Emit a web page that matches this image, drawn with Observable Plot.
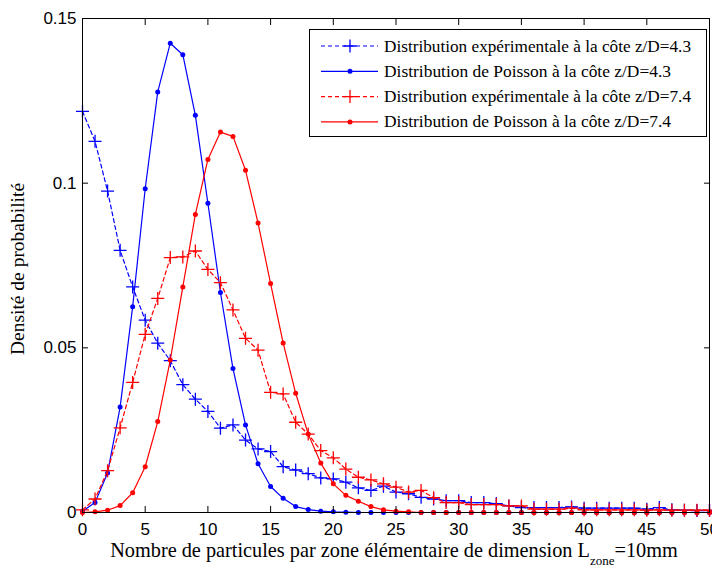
<!DOCTYPE html>
<html>
<head>
<meta charset="utf-8">
<script src="https://cdn.jsdelivr.net/npm/d3@7"></script>
<script src="https://cdn.jsdelivr.net/npm/@observablehq/plot@0.6"></script>
<style>
  html, body { margin: 0; padding: 0; background: white; }
  #wrap { position: relative; width: 712px; height: 570px; overflow: hidden; }
  #legend { position: absolute; left: 309px; top: 29px; width: 396px; height: 106px; border: 1px solid black; background: white; }
</style>
</head>
<body>
<div id="wrap"></div>
<script>
const xVals = [0,1,2,3,4,5,6,7,8,9,10,11,12,13,14,15,16,17,18,19,20,21,22,23,24,25,26,27,28,29,30,31,32,33,34,35,36,37,38,39,40,41,42,43,44,45,46,47,48,49,50];

const expA = [0.1218,0.1127,0.0976,0.0796,0.0685,0.0584,0.0514,0.0461,0.0388,0.0344,
  0.0307,0.0256,0.0266,0.0220,0.0193,0.0185,0.0139,0.0129,0.0118,0.0105,
  0.0102,0.0092,0.0075,0.0067,0.0080,0.0062,0.0057,0.0046,0.0041,0.0036,
  0.0036,0.0030,0.0030,0.0027,0.0020,0.0015,0.0015,0.0015,0.0015,0.0017,
  0.0013,0.0013,0.0013,0.0013,0.0013,0.0010,0.0015,0.0008,0.0007,0.0006,0.0006];

const poisA = [0.0004,0.0030,0.0120,0.0320,0.0625,0.0983,0.1277,0.1425,0.1390,0.1206,
  0.0939,0.0668,0.0437,0.0266,0.0148,0.0079,0.0043,0.0018,0.0009,0.0004,
  0.0002,0.0001,0,0,0,0,0,0,0,0,
  0,0,0,0,0,0,0,0,0,0,
  0,0,0,0,0,0,0,0,0,0,0];

const expB = [0.0008,0.0041,0.0127,0.0257,0.0395,0.0541,0.0650,0.0774,0.0776,0.0794,
  0.0738,0.0698,0.0615,0.0529,0.0493,0.0365,0.0360,0.0274,0.0238,0.0188,
  0.0166,0.0132,0.0107,0.0099,0.0087,0.0077,0.0062,0.0067,0.0045,0.0030,
  0.0030,0.0024,0.0024,0.0024,0.0020,0.0020,0.0010,0.0010,0.0010,0.0013,
  0.0008,0.0008,0.0008,0.0008,0.0008,0.0007,0.0008,0.0007,0.0007,0.0007,0.0007];

const poisB = [0.0000,0.0002,0.0007,0.0021,0.0060,0.0139,0.0276,0.0463,0.0685,0.0905,
  0.1072,0.1155,0.1142,0.1039,0.0879,0.0695,0.0515,0.0362,0.0238,0.0150,
  0.0087,0.0052,0.0034,0.0018,0.0008,0.0004,0.0002,0,0,0,
  0,0,0,0,0,0,0,0,0,0,
  0,0,0,0,0,0,0,0,0,0,0];

const seriesNames = [
  "Distribution expérimentale à la côte z/D=4.3",
  "Distribution de Poisson à la côte z/D=4.3",
  "Distribution expérimentale à la côte z/D=7.4",
  "Distribution de Poisson à la côte z/D=7.4"
];
const seriesColors = ["#0000ff", "#0000ff", "#ff0000", "#ff0000"];
const seriesKinds = ["exp", "pois", "exp", "pois"];
const seriesValues = [expA, poisA, expB, poisB];

const xTicks = [0,5,10,15,20,25,30,35,40,45,50];
const yTicks = [0, 0.05, 0.1, 0.15];

const xLabelMain = "Nombre de particules par zone élémentaire de dimension L";
const xLabelSub = "zone";
const xLabelEnd = "=10mm";
const yLabel = "Densité de probabilité";

const plusSymbol = {
  draw(context, size) {
    const r = Math.sqrt(size / Math.PI);
    context.moveTo(-r, 0); context.lineTo(r, 0);
    context.moveTo(0, -r); context.lineTo(0, r);
  }
};

const marks = [];
seriesValues.forEach((vals, i) => {
  const data = xVals.map((x, j) => ({x, y: vals[j]}));
  const exp = seriesKinds[i] === "exp";
  marks.push(Plot.line(data, {x: "x", y: "y", stroke: seriesColors[i], strokeWidth: 1.2,
    strokeDasharray: exp ? "4,3" : null}));
  if (exp) {
    marks.push(Plot.dot(data, {x: "x", y: "y", symbol: plusSymbol, r: 6.5, stroke: seriesColors[i], strokeWidth: 1.3, fill: "none"}));
  } else {
    marks.push(Plot.dot(data, {x: "x", y: "y", r: 2.5, fill: seriesColors[i], stroke: "none"}));
  }
});

const chart = Plot.plot({
  width: 712,
  height: 570,
  marginLeft: 82,
  marginRight: 3,
  marginTop: 18,
  marginBottom: 58,
  style: {fontFamily: "Liberation Sans", fontSize: "17px", background: "white", color: "black", overflow: "visible"},
  x: {domain: [0, 50]},
  y: {domain: [0, 0.15]},
  marks: [
    ...marks,
    Plot.frame({stroke: "black", strokeWidth: 1}),
    Plot.axisX(xTicks, {anchor: "bottom", tickSize: 0, tickPadding: 10, label: null, tickFormat: d => String(d)}),
    Plot.axisX(xTicks, {anchor: "bottom", tickSize: -6, tickPadding: 0, label: null, tickFormat: () => ""}),
    Plot.axisX(xTicks, {anchor: "top", tickSize: -6, tickPadding: 0, label: null, tickFormat: () => ""}),
    Plot.axisY(yTicks, {anchor: "left", tickSize: 0, tickPadding: 6, label: null, tickFormat: d => d === 0 ? "0" : String(d)}),
    Plot.axisY(yTicks, {anchor: "left", tickSize: -6, tickPadding: 0, label: null, tickFormat: () => ""}),
    Plot.axisY(yTicks, {anchor: "right", tickSize: -6, tickPadding: 0, label: null, tickFormat: () => ""})
  ]
});

const wrap = document.getElementById("wrap");
wrap.appendChild(chart);

const svg = d3.select(chart);
const xl = svg.append("text")
  .attr("x", 394).attr("y", 557)
  .attr("text-anchor", "middle")
  .attr("font-family", "Liberation Serif")
  .attr("font-size", 20.3)
  .attr("fill", "black");
xl.append("tspan").text(xLabelMain);
xl.append("tspan").attr("dy", 8).attr("font-size", 13).text(xLabelSub);
xl.append("tspan").attr("dy", -8).text(xLabelEnd);

svg.append("text")
  .attr("transform", "translate(24,269) rotate(-90)")
  .attr("text-anchor", "middle")
  .attr("font-family", "Liberation Serif")
  .attr("font-size", 19.5)
  .attr("fill", "black")
  .text(yLabel);

// Legend
const legend = document.createElement("div");
legend.id = "legend";
wrap.appendChild(legend);
const lsvg = d3.select(legend).append("svg").attr("width", 396).attr("height", 106);
seriesNames.forEach((name, i) => {
  const cy = 16 + i * 25.3;
  const g = lsvg.append("g");
  g.append("line").attr("x1", 11).attr("x2", 68).attr("y1", cy).attr("y2", cy)
    .attr("stroke", seriesColors[i]).attr("stroke-width", 1.2)
    .attr("stroke-dasharray", seriesKinds[i] === "exp" ? "4,3" : null);
  if (seriesKinds[i] === "exp") {
    g.append("path").attr("d", `M${40-6.5},${cy}H${40+6.5}M40,${cy-6.5}V${cy+6.5}`)
      .attr("stroke", seriesColors[i]).attr("stroke-width", 1.3);
  } else {
    g.append("circle").attr("cx", 40).attr("cy", cy).attr("r", 2.5).attr("fill", seriesColors[i]);
  }
  g.append("text").attr("x", 74).attr("y", cy + 5.5)
    .attr("font-family", "Liberation Serif").attr("font-size", 17.5).attr("fill", "black")
    .attr("textLength", seriesKinds[i] === "exp" ? 307 : 287)
    .attr("lengthAdjust", "spacingAndGlyphs")
    .text(name);
});
</script>
</body>
</html>
